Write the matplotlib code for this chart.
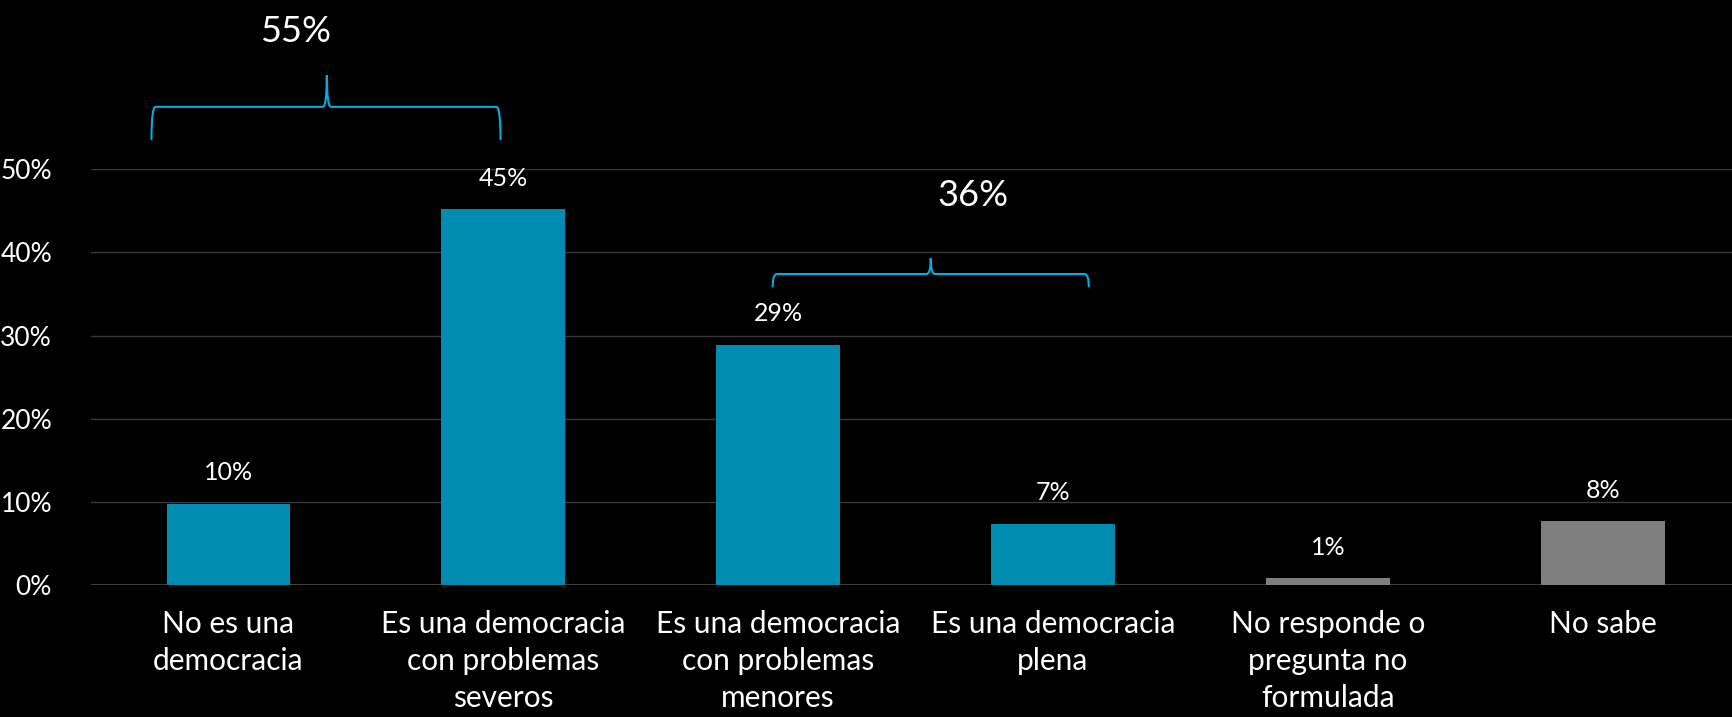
import matplotlib.pyplot as plt
from matplotlib.path import Path
from matplotlib.patches import PathPatch

categories = ['No es una\ndemocracia', 'Es una democracia\ncon problemas\nseveros',
              'Es una democracia\ncon problemas\nmenores', 'Es una democracia\nplena',
              'No responde o\npregunta no\nformulada', 'No sabe']
values = [0.098, 0.452, 0.289, 0.074, 0.008, 0.077]
value_labels = ['10%', '45%', '29%', '7%', '1%', '8%']
colors = ['#008bb0'] * 4 + ['#7f7f7f'] * 2
yticks = [0, 0.1, 0.2, 0.3, 0.4, 0.5]
ytick_labels = ['0%', '10%', '20%', '30%', '40%', '50%']
# grouped totals: left, right, tip, label
groups = [(-0.28, 0.99, 0.358, '55%'), (1.98, 3.13, 2.555, '36%')]
group_y = [0.575, 0.374]
group_text = [(0.245, 0.666), (2.71, 0.468)]

plt.rcParams['font.family'] = ['Lato', 'DejaVu Sans']

fig = plt.figure(figsize=(17.32, 7.17), dpi=100, facecolor='black')
ax = fig.add_axes([91 / 1732, 0.184, 1 - 91 / 1732, 0.580])
ax.set_facecolor('black')

x = range(len(categories))
ax.bar(x, values, width=0.45, color=colors, zorder=2)
for xi, v, lab in zip(x, values, value_labels):
    ax.annotate(lab, (xi, v), xytext=(0, 14), textcoords='offset points',
                ha='center', va='bottom', color='white', fontsize=18)

ax.set_xlim(-0.5, 5.47)
ax.set_ylim(0, 0.5)
ax.set_yticks(yticks)
ax.set_yticklabels(ytick_labels)
ax.set_xticks(list(x))
ax.set_xticklabels(categories, linespacing=1.4)
ax.tick_params(axis='y', colors='white', labelsize=19, length=0, pad=28)
ax.tick_params(axis='x', colors='white', labelsize=21.5, length=0, pad=18)
ax.grid(axis='y', color='#3a3a3a', linewidth=1, zorder=0)
for s in ax.spines.values():
    s.set_visible(False)
ax.axhline(0, color='#404040', linewidth=1.5, zorder=1)


def bracket(ax, x0, x1, y, tip_x, rise, drop, color):
    r = 0.015
    v = [(x0, y - drop), (x0, y), (x0 + r, y),
         (tip_x - r, y), (tip_x, y), (tip_x, y + rise),
         (tip_x, y), (tip_x + r, y),
         (x1 - r, y), (x1, y), (x1, y - drop)]
    c = [Path.MOVETO, Path.CURVE3, Path.CURVE3,
         Path.LINETO, Path.CURVE3, Path.CURVE3,
         Path.CURVE3, Path.CURVE3,
         Path.LINETO, Path.CURVE3, Path.CURVE3]
    ax.add_patch(PathPatch(Path(v, c), fill=False, edgecolor=color,
                           linewidth=1.5, clip_on=False, zorder=3))


for (x0, x1, tip, lab), y, (tx, ty) in zip(groups, group_y, group_text):
    rise = 0.038 if lab == '55%' else 0.019
    drop = 0.04 if lab == '55%' else 0.016
    bracket(ax, x0, x1, y, tip, rise, drop, '#00aee0')
    ax.text(tx, ty, lab, ha='center', va='center', color='white',
            fontsize=26, clip_on=False)

fig.savefig('out.png', dpi=100, facecolor='black')
